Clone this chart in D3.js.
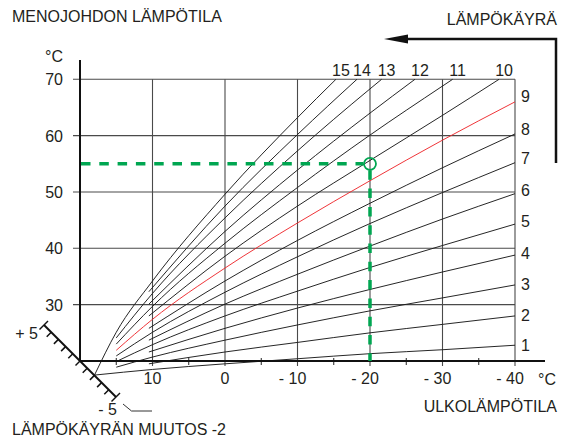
<!DOCTYPE html>
<html>
<head>
<meta charset="utf-8">
<script src="https://cdn.jsdelivr.net/npm/d3@7"></script>
<style>
  body { margin: 0; background: #fff; }
  text { font-family: "Liberation Sans", Arial, sans-serif; font-size: 16px; fill: #231f20; }
</style>
</head>
<body>
<div class="chart"></div>
<script>
//Tick values of both axes and of the curve shift scale.
var outdoorTicks = [10, 0, -10, -20, -30, -40];
var outdoorMinor = [15, 5, -5, -15, -25, -35];
var flowTicks = [30, 40, 50, 60, 70];
var shiftTicks = [-5, -4, -3, -2, -1, 0, 1, 2, 3, 4, 5];

//Heating curves as [outdoor, flow] pairs.
var curve1 = [[18, 17.5], [10, 18.5], [0, 19.5], [-10, 20.4], [-20, 21.3], [-30, 22.0], [-40, 22.8]];
var curve2 = [[10.5, 19.5], [0, 21.6], [-10, 23.3], [-20, 25.0], [-30, 26.5], [-40, 28.0]];
var curve3 = [[15, 18.9], [10, 20.7], [0, 23.7], [-10, 26.4], [-20, 28.9], [-30, 31.2], [-40, 33.5]];
var curve4 = [[10.5, 21.6], [0, 25.8], [-10, 29.4], [-20, 32.7], [-30, 35.8], [-40, 38.8]];
var curve5 = [[15, 19.9], [10, 22.9], [0, 28.0], [-10, 32.4], [-20, 36.6], [-30, 40.5], [-40, 44.3]];
var curve6 = [[10.5, 23.7], [0, 30.1], [-10, 35.4], [-20, 40.4], [-30, 45.2], [-40, 49.7]];
var curve7 = [[15, 20.9], [10, 25.1], [0, 32.2], [-10, 38.5], [-20, 44.4], [-30, 49.9], [-40, 55.2]];
var curve8 = [[10.5, 25.8], [0, 34.2], [-10, 41.4], [-20, 48.0], [-30, 54.3], [-40, 60.3]];
var curve9 = [[15, 21.9], [10, 27.4], [0, 36.5], [-10, 44.5], [-20, 52.0], [-30, 59.2], [-40, 66.0]];
var curve10 = [[10.5, 28.0], [0, 38.6], [-10, 47.5], [-20, 55.6], [-30, 63.6], [-37.8, 70]];
var curve11 = [[15, 23.0], [10, 29.7], [0, 40.9], [-10, 50.8], [-20, 60.1], [-30, 68.8], [-31.4, 70]];
var curve12 = [[10.5, 30.1], [0, 43.0], [-10, 53.9], [-20, 64.0], [-26.2, 70]];
var curve13 = [[15, 24.1], [10, 32.0], [0, 45.4], [-10, 57.3], [-20, 68.3], [-21.6, 70]];
var curve14 = [[10.5, 32.3], [0, 47.5], [-10, 60.2], [-18.2, 70]];
var curve15 = [[18, 17.5], [15, 25.1], [10, 34.2], [0, 49.6], [-10, 63.2], [-15.3, 70]];

var curveNames = ["1", "2", "3", "4", "5", "6", "7", "8", "9", "10", "11", "12", "13", "14", "15"];
var redCurve = "9";

//Chosen setting: outdoor -20 gives flow 55, shift -2.
var setPoint = [-20, 55];
var shiftValue = -2;

var svgWidth = 563;
var svgHeight = 441;

var curves = [curve1, curve2, curve3, curve4, curve5, curve6, curve7, curve8,
  curve9, curve10, curve11, curve12, curve13, curve14, curve15];

var svg = d3.select(".chart")
  .append("svg")
  .attr("width", svgWidth)
  .attr("height", svgHeight)
  .style("display", "block");

//Scales. Outdoor runs from +20 on the left to -40 on the right.
var x = d3.scaleLinear().domain([20, -40]).range([80, 515]);
var y = d3.scaleLinear().domain([20, 70]).range([361, 79.3]);
var s = d3.scaleLinear().domain([-5, 5]).range([36, -36]);

var green = "#00a651";
var grid = "#4a4a4a";

//Grid lines.
svg.selectAll(".hgrid")
  .data(flowTicks)
  .enter().append("line")
  .attr("x1", 73).attr("x2", x(-40))
  .attr("y1", function(d) { return y(d); })
  .attr("y2", function(d) { return y(d); })
  .attr("stroke", grid).attr("stroke-width", 1.1);

svg.selectAll(".vgrid")
  .data(outdoorTicks)
  .enter().append("line")
  .attr("x1", function(d) { return x(d); })
  .attr("x2", function(d) { return x(d); })
  .attr("y1", y(70)).attr("y2", y(20) + 5)
  .attr("stroke", grid).attr("stroke-width", 1.1);

svg.selectAll(".minor")
  .data(outdoorMinor)
  .enter().append("line")
  .attr("x1", function(d) { return x(d); })
  .attr("x2", function(d) { return x(d); })
  .attr("y1", y(20) - 3).attr("y2", y(20) + 4)
  .attr("stroke", "#222").attr("stroke-width", 1);

//Heating curves.
var line = d3.line()
  .x(function(d) { return x(d[0]); })
  .y(function(d) { return y(d[1]); })
  .curve(d3.curveMonotoneX);

svg.selectAll(".curve")
  .data(curves)
  .enter().append("path")
  .attr("d", line)
  .attr("fill", "none")
  .attr("stroke", function(d, i) { return curveNames[i] == redCurve ? "#ee2a2e" : "#1a1a1a"; })
  .attr("stroke-width", 0.95);

//Axes.
svg.append("line")
  .attr("x1", x(20)).attr("x2", x(20))
  .attr("y1", 60).attr("y2", y(20))
  .attr("stroke", "#111").attr("stroke-width", 2);

svg.append("line")
  .attr("x1", x(20)).attr("x2", 545)
  .attr("y1", y(20)).attr("y2", y(20))
  .attr("stroke", "#111").attr("stroke-width", 2);

svg.selectAll(".ylab")
  .data(flowTicks)
  .enter().append("text")
  .attr("x", 63)
  .attr("y", function(d) { return y(d) + 6; })
  .attr("text-anchor", "end")
  .text(function(d) { return d; });

svg.append("text").attr("x", 63).attr("y", 62).attr("text-anchor", "end").text("°C");

//Outdoor labels: the digits sit centred on the tick, the "- " hangs left.
svg.selectAll(".xlab")
  .data(outdoorTicks)
  .enter().append("text")
  .attr("x", function(d) { return x(d) + String(Math.abs(d)).length * 4.45; })
  .attr("y", 384)
  .attr("text-anchor", "end")
  .text(function(d) { return d < 0 ? "- " + Math.abs(d) : d; });

svg.append("text").attr("x", 556).attr("y", 385).attr("text-anchor", "end").text("°C");

//Curve numbers: low curves on the right edge, steep ones along the top.
svg.selectAll(".rlab")
  .data(curves.filter(function(d) { return d[d.length - 1][0] == -40; }))
  .enter().append("text")
  .attr("x", 521)
  .attr("y", function(d, i) { return y(d[d.length - 1][1]) + 6 - 0.7 * i; })
  .text(function(d) { return curveNames[curves.indexOf(d)]; });

svg.selectAll(".tlab")
  .data(curves.filter(function(d) { return d[d.length - 1][0] != -40; }))
  .enter().append("text")
  .attr("x", function(d) { return x(d[d.length - 1][0]) + 5; })
  .attr("y", 76)
  .attr("text-anchor", "middle")
  .text(function(d) { return curveNames[curves.indexOf(d)]; });

//Set point with the green guide lines.
svg.append("line")
  .attr("x1", x(20) + 1).attr("x2", x(setPoint[0]) - 6.5)
  .attr("y1", y(setPoint[1])).attr("y2", y(setPoint[1]))
  .attr("stroke", green).attr("stroke-width", 3.5)
  .attr("stroke-dasharray", "9.5,8.8");

svg.append("line")
  .attr("x1", x(setPoint[0])).attr("x2", x(setPoint[0]))
  .attr("y1", y(setPoint[1]) + 6.5).attr("y2", y(20))
  .attr("stroke", green).attr("stroke-width", 3.5)
  .attr("stroke-dasharray", "9.5,8.8");

svg.append("circle")
  .attr("cx", x(setPoint[0])).attr("cy", y(setPoint[1]))
  .attr("r", 6)
  .attr("fill", "none")
  .attr("stroke", green).attr("stroke-width", 1.8);

//Diagonal shift scale through the origin.
var ox = x(20), oy = y(20);
svg.append("line")
  .attr("x1", ox + s(-5)).attr("y1", oy + s(-5))
  .attr("x2", ox + s(5)).attr("y2", oy + s(5))
  .attr("stroke", "#111").attr("stroke-width", 2);

svg.selectAll(".stick")
  .data(shiftTicks)
  .enter().append("line")
  .attr("x1", function(d) { return ox + s(d) + (Math.abs(d) == 5 ? 4 : 0); })
  .attr("y1", function(d) { return oy + s(d) - (Math.abs(d) == 5 ? 4 : 0); })
  .attr("x2", function(d) { return ox + s(d) - 4.5; })
  .attr("y2", function(d) { return oy + s(d) + 4.5; })
  .attr("stroke", "#111").attr("stroke-width", 1.5);

svg.append("text").attr("x", 38).attr("y", 339).attr("text-anchor", "end").text("+ 5");
svg.append("text").attr("x", 117).attr("y", 415).attr("text-anchor", "end").text("- 5");

svg.append("path")
  .attr("d", "M123,404 L131.5,411 L152,411")
  .attr("fill", "none").attr("stroke", "#333").attr("stroke-width", 1);

//Arrow pointing at the curve numbers.
svg.append("path")
  .attr("d", "M400,39 L556,39 L556,163")
  .attr("fill", "none").attr("stroke", "#111").attr("stroke-width", 2.5);

svg.append("path")
  .attr("d", "M384,39 L408,34.5 L408,43.5 Z")
  .attr("fill", "#111");

//Titles.
svg.append("text").attr("x", 12).attr("y", 22).text("MENOJOHDON LÄMPÖTILA");
svg.append("text").attr("x", 557).attr("y", 25).attr("text-anchor", "end").text("LÄMPÖKÄYRÄ");
svg.append("text").attr("x", 557).attr("y", 412).attr("text-anchor", "end").text("ULKOLÄMPÖTILA");
svg.append("text").attr("x", 12).attr("y", 435).text("LÄMPÖKÄYRÄN MUUTOS " + shiftValue);
</script>
</body>
</html>
